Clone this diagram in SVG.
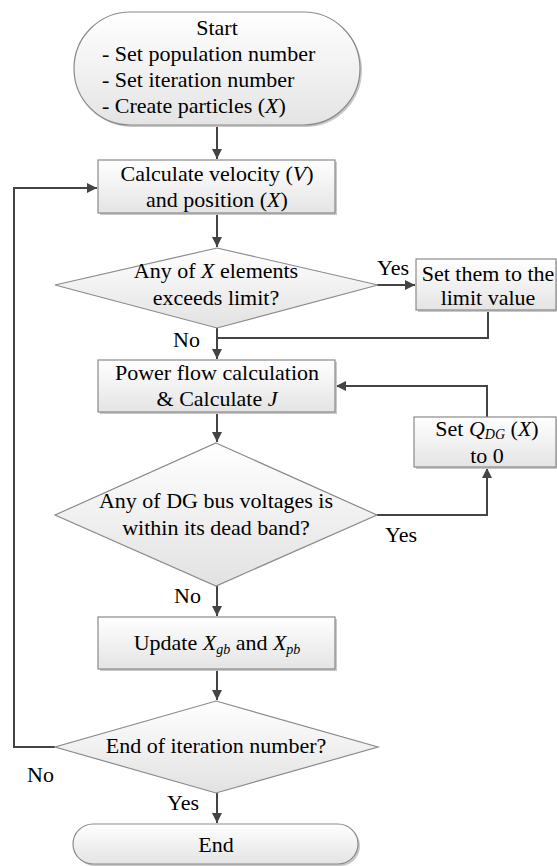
<svg xmlns="http://www.w3.org/2000/svg" width="557" height="866" viewBox="0 0 557 866">
<style>
  .t { font-family: "Liberation Serif", "Times New Roman", serif; font-size: 22px; fill: #000; }
  .c { text-anchor: middle; }
  .i { font-style: italic; }
  .sub { font-size: 14px; font-style: italic; }
  .shape { stroke: #8a8a8a; stroke-width: 1.2; }
  .box { fill: url(#gb); }
  .dia { fill: url(#gd); }
  .shadow { fill: #c8c8c8; }
  .conn { fill: none; stroke: #444; stroke-width: 2; }
</style>
<defs>
  <linearGradient id="gb" x1="0" y1="0" x2="0" y2="1">
    <stop offset="0" stop-color="#ffffff"/>
    <stop offset="1" stop-color="#e4e4e4"/>
  </linearGradient>
  <linearGradient id="gd" x1="0" y1="0" x2="0" y2="1">
    <stop offset="0" stop-color="#ffffff"/>
    <stop offset="1" stop-color="#e2e2e2"/>
  </linearGradient>
  <marker id="ah" markerWidth="10" markerHeight="10" viewBox="0 0 10 10" refX="10" refY="5" orient="auto" markerUnits="userSpaceOnUse">
    <path d="M0,0 L10,5 L0,10 Z" fill="#444"/>
  </marker>
</defs>
<rect width="557" height="866" fill="#fff"/>

<g id="connectors">
  <line class="conn" x1="217" y1="125" x2="217" y2="159" marker-end="url(#ah)"/>
  <line class="conn" x1="217" y1="213" x2="217" y2="247" marker-end="url(#ah)"/>
  <line class="conn" x1="377" y1="285" x2="415" y2="285" marker-end="url(#ah)"/>
  <polyline class="conn" points="488,310 488,338 217,338"/>
  <line class="conn" x1="217" y1="328" x2="217" y2="359" marker-end="url(#ah)"/>
  <line class="conn" x1="217" y1="412" x2="217" y2="442" marker-end="url(#ah)"/>
  <polyline class="conn" points="377,515 487,515 487,468" marker-end="url(#ah)"/>
  <polyline class="conn" points="487,417 487,386 336,386" marker-end="url(#ah)"/>
  <line class="conn" x1="217" y1="586" x2="217" y2="616" marker-end="url(#ah)"/>
  <line class="conn" x1="217" y1="669" x2="217" y2="700" marker-end="url(#ah)"/>
  <line class="conn" x1="217" y1="793" x2="217" y2="823" marker-end="url(#ah)"/>
  <polyline class="conn" points="55,747 14,747 14,188 97,188" marker-end="url(#ah)"/>
</g>

<g id="labels">
  <text class="t" x="377" y="275">Yes</text>
  <text class="t" x="173" y="347">No</text>
  <text class="t" x="385" y="542">Yes</text>
  <text class="t" x="174" y="603">No</text>
  <text class="t" x="27" y="782">No</text>
  <text class="t" x="167" y="810">Yes</text>
</g>

<g id="start">
  <rect class="shadow" x="76" y="14" width="286" height="113" rx="56.5"/>
  <rect class="shape box" x="74" y="12" width="286" height="113" rx="56.5"/>
  <text class="t c" x="217" y="35">Start</text>
  <text class="t" x="102" y="61">- Set population number</text>
  <text class="t" x="102" y="87">- Set iteration number</text>
  <text class="t" x="102" y="113">- Create particles (<tspan class="i">X</tspan>)</text>
</g>

<g id="calc-velocity">
  <rect class="shadow" x="100" y="162" width="237" height="53"/>
  <rect class="shape box" x="98" y="160" width="237" height="53"/>
  <text class="t c" x="217" y="181">Calculate velocity (<tspan class="i">V</tspan>)</text>
  <text class="t c" x="217" y="207">and position (<tspan class="i">X</tspan>)</text>
</g>

<g id="limit-check">
  <polygon class="shape dia" points="217,248 378,285 217,328 55,285"/>
  <text class="t c" x="216" y="278">Any of <tspan class="i">X</tspan> elements</text>
  <text class="t c" x="216" y="305">exceeds limit?</text>
</g>

<g id="set-limit">
  <rect class="shadow" x="418" y="261" width="140" height="51"/>
  <rect class="shape box" x="416" y="259" width="140" height="51"/>
  <text class="t c" x="488" y="281">Set them to the</text>
  <text class="t c" x="488" y="305">limit value</text>
</g>

<g id="power-flow">
  <rect class="shadow" x="100" y="362" width="237" height="52"/>
  <rect class="shape box" x="98" y="360" width="237" height="52"/>
  <text class="t c" x="217" y="380">Power flow calculation</text>
  <text class="t c" x="217" y="406">&amp; Calculate <tspan class="i">J</tspan></text>
</g>

<g id="deadband-check">
  <polygon class="shape dia" points="216,443 377,515 216,586 55,515"/>
  <text class="t c" x="216" y="508">Any of DG bus voltages is</text>
  <text class="t c" x="216" y="535">within its dead band?</text>
</g>

<g id="set-qdg">
  <rect class="shadow" x="416" y="419" width="142" height="50"/>
  <rect class="shape box" x="414" y="417" width="142" height="50"/>
  <text class="t c" x="487" y="436">Set <tspan class="i">Q</tspan><tspan class="sub" dy="3">DG</tspan><tspan dy="-3"> (</tspan><tspan class="i">X</tspan>)</text>
  <text class="t c" x="487" y="463">to 0</text>
</g>

<g id="update">
  <rect class="shadow" x="100" y="619" width="237" height="52"/>
  <rect class="shape box" x="98" y="617" width="237" height="52"/>
  <text class="t c" x="217" y="650">Update <tspan class="i">X</tspan><tspan class="sub" dy="4">gb</tspan><tspan dy="-4"> and </tspan><tspan class="i">X</tspan><tspan class="sub" dy="4">pb</tspan></text>
</g>

<g id="iteration-check">
  <polygon class="shape dia" points="216,701 378,747 216,793 55,747"/>
  <text class="t c" x="216" y="753">End of iteration number?</text>
</g>

<g id="end">
  <rect class="shadow" x="75" y="826" width="285" height="40" rx="20"/>
  <rect class="shape box" x="73" y="824" width="285" height="40" rx="20"/>
  <text class="t c" x="216" y="852">End</text>
</g>
</svg>
